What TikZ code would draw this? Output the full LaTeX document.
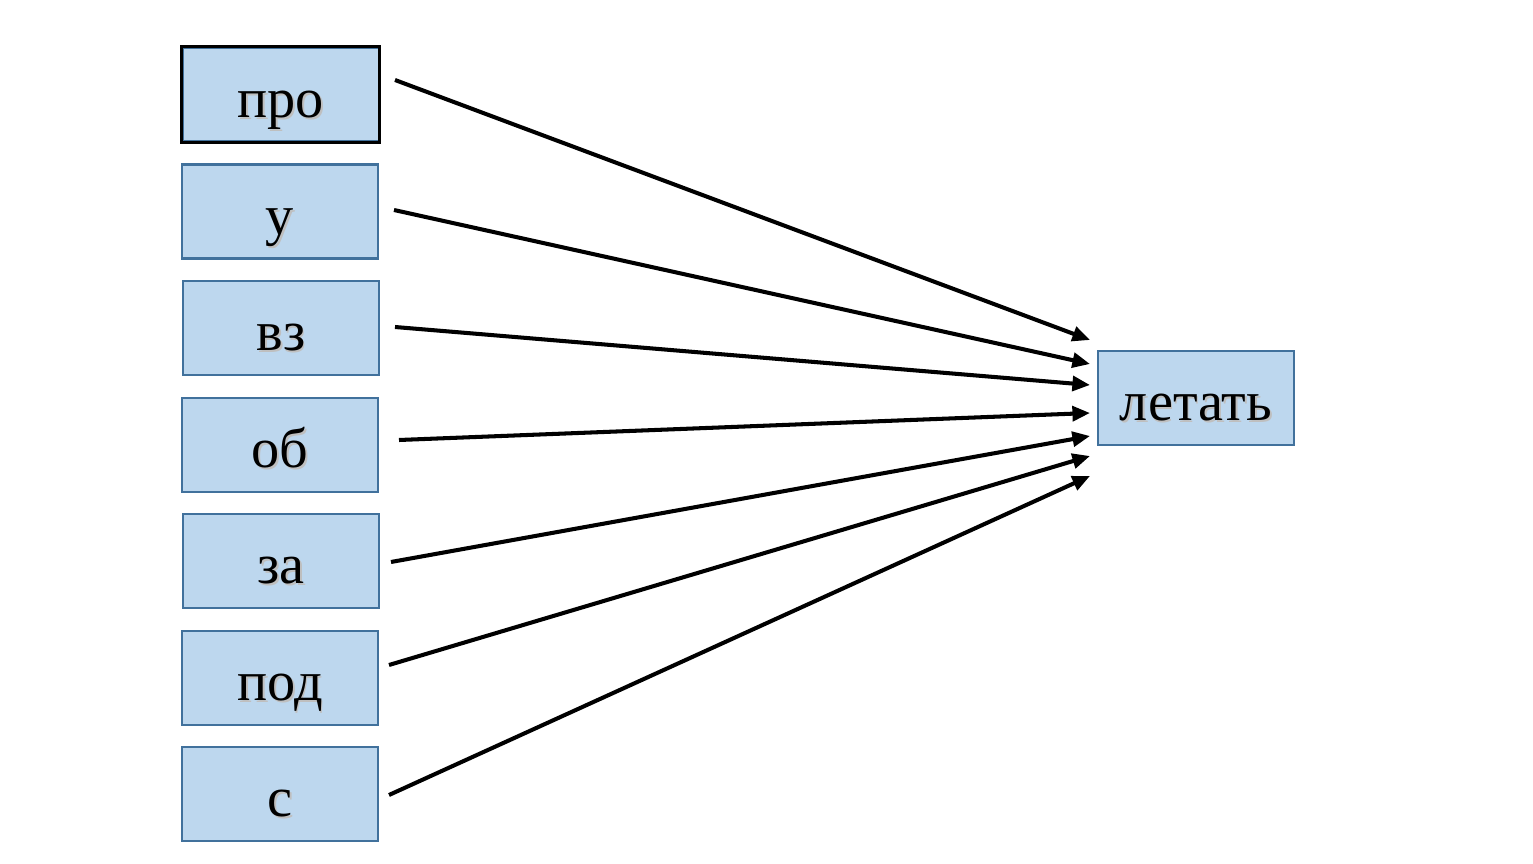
\documentclass[tikz,border=0pt]{standalone}
\usepackage{fontspec}
\setmainfont{Liberation Serif}
\usetikzlibrary{arrows.meta}
\definecolor{boxfill}{HTML}{BDD7EE}
\definecolor{boxline}{HTML}{41719C}
% soft text shadow
\newcommand{\shadowtext}[1]{\makebox[0pt][l]{\hspace{0.5pt}\raisebox{-0.5pt}{\textcolor{black!25}{#1}}}#1}

\begin{document}
\begin{tikzpicture}[x=0.01cm,y=-0.01cm,
	wordbox/.style={draw=boxline, line width=0.6pt, fill=boxfill, minimum width=1.96cm, minimum height=0.94cm, inner sep=0pt, text height=13.5pt, text depth=0.5pt, font=\fontsize{16}{18}\selectfont},
	link/.style={line width=1.15pt, -{Triangle[length=5pt,width=4.2pt]}}]
	
	% Parameters
	\def\tipx{1090}
	\useasboundingbox (0,0) rectangle (1533,864);
	
	% prefix boxes
	\foreach \n/\x/\y/\t in {pro/280.5/94.5/про, u/280/211.5/у, vz/281/328/вз, ob/280/445/об, za/281/561/за, pod/280/678/под, s/280/794/с} {
		\node[wordbox] (\n) at (\x,\y) {\shadowtext{\t}};
	}
	\draw[black, line width=0.75pt] (pro.south west) rectangle (pro.north east);
	
	% verb box
	\node[wordbox] (letat) at (1196,398) {\shadowtext{летать}};
	
	% arrows to verb
	\foreach \n/\sx/\sy/\ey in {pro/395/80/340, u/394/210/364, vz/395/327/385, ob/399/440/413, za/391/562/436, pod/389/665/456, s/389/795/476} {
		\coordinate (\n-from) at (\sx,\sy);
		\coordinate (\n-to) at (\tipx,\ey);
		\draw[link] (\n-from) -- (\n-to);
	}
	
\end{tikzpicture}
\end{document}
